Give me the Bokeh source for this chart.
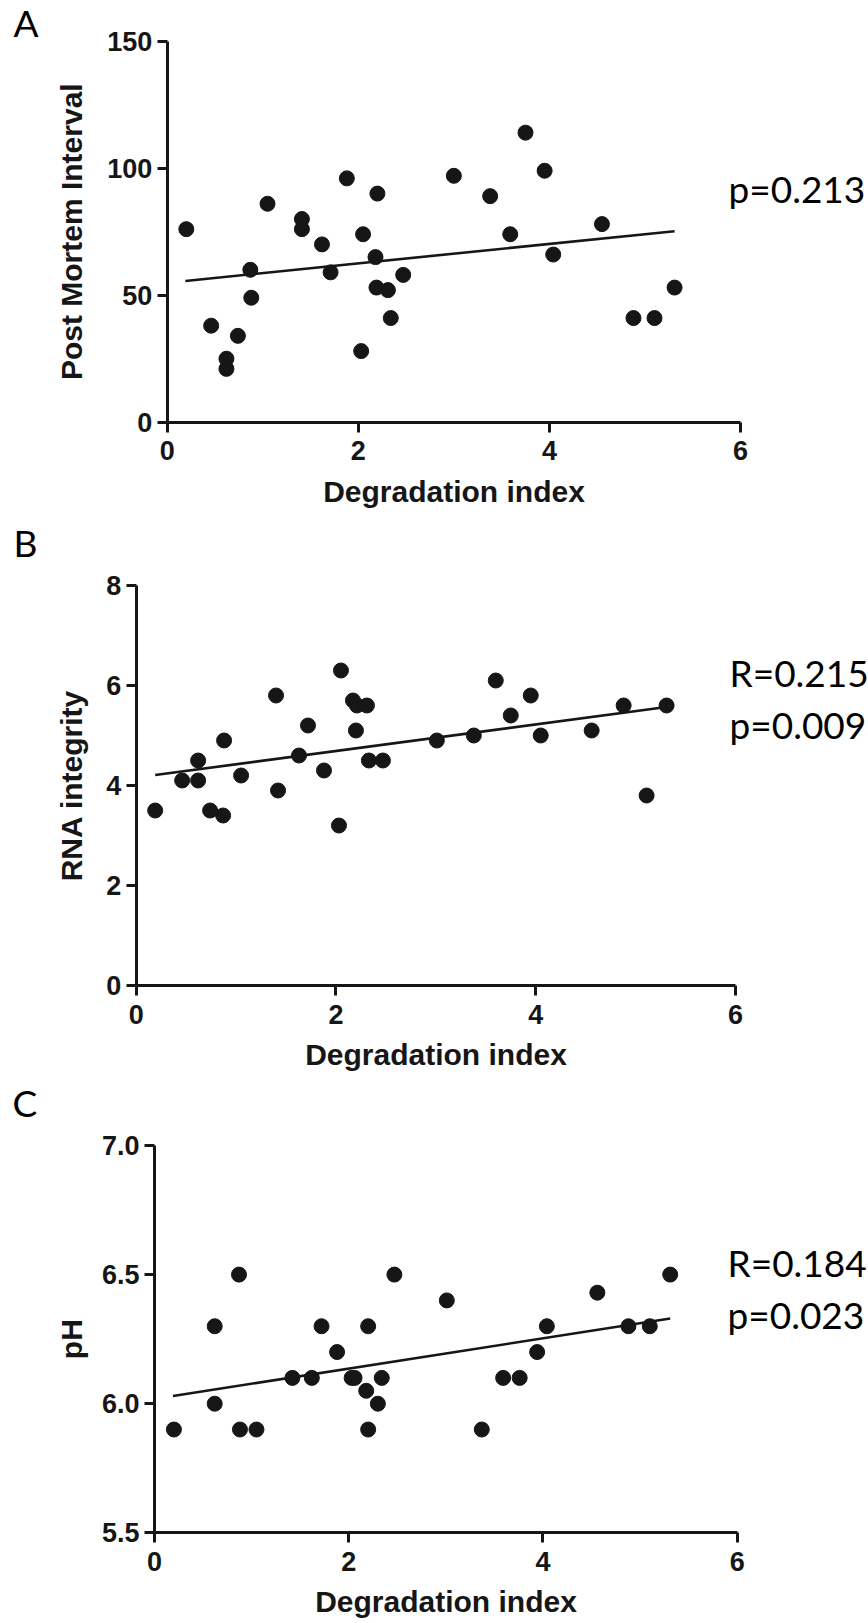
import math
from bokeh.plotting import figure
from bokeh.models import Label, FixedTicker, NumeralTickFormatter
from bokeh.layouts import column
from bokeh.embed import file_html
from bokeh.resources import INLINE

# ---------------- data ----------------
x_ticks = [0, 2, 4, 6]

# Panel A: Post Mortem Interval vs Degradation index
deg_a = [0.20, 0.46, 0.62, 0.62, 0.74, 0.87, 0.88, 1.05, 1.41, 1.41, 1.62, 1.71,
         1.88, 2.03, 2.05, 2.18, 2.20, 2.19, 2.31, 2.34, 2.47, 3.00, 3.38, 3.59,
         3.75, 3.95, 4.04, 4.55, 4.88, 5.10, 5.31]
pmi = [76, 38, 25, 21, 34, 60, 49, 86, 80, 76, 70, 59,
       96, 28, 74, 65, 90, 53, 52, 41, 58, 97, 89, 74,
       114, 99, 66, 78, 41, 41, 53]
y_ticks_a = [0, 50, 100, 150]
fit_x = [0.19, 5.31]
fit_a = [55.6, 75.2]
stats_a = ["p=0.213"]

# Panel B: RNA integrity vs Degradation index
deg_b = [0.19, 0.46, 0.62, 0.62, 0.74, 0.87, 0.88, 1.05, 1.40, 1.42, 1.63, 1.72,
         1.88, 2.05, 2.03, 2.17, 2.21, 2.20, 2.31, 2.33, 2.47, 3.01, 3.38, 3.60,
         3.75, 3.95, 4.05, 4.56, 4.88, 5.11, 5.31]
rin = [3.5, 4.1, 4.1, 4.5, 3.5, 3.4, 4.9, 4.2, 5.8, 3.9, 4.6, 5.2,
       4.3, 6.3, 3.2, 5.7, 5.6, 5.1, 5.6, 4.5, 4.5, 4.9, 5.0, 6.1,
       5.4, 5.8, 5.0, 5.1, 5.6, 3.8, 5.6]
y_ticks_b = [0, 2, 4, 6, 8]
fit_b = [4.21, 5.57]
stats_b = ["R=0.215", "p=0.009"]

# Panel C: pH vs Degradation index
deg_c = [0.20, 0.62, 0.62, 0.87, 0.88, 1.05, 1.42, 1.62, 1.72, 1.88, 2.03, 2.06,
         2.20, 2.18, 2.20, 2.30, 2.34, 2.47, 3.01, 3.37, 3.59, 3.76, 3.94, 4.04,
         4.56, 4.88, 5.10, 5.31]
ph = [5.9, 6.3, 6.0, 6.5, 5.9, 5.9, 6.1, 6.1, 6.3, 6.2, 6.1, 6.1,
      6.3, 6.05, 5.9, 6.0, 6.1, 6.5, 6.4, 5.9, 6.1, 6.1, 6.2, 6.3,
      6.43, 6.3, 6.3, 6.5]
y_ticks_c = [5.5, 6.0, 6.5, 7.0]
fit_c = [6.03, 6.33]
stats_c = ["R=0.184", "p=0.023"]

INK = "#161616"
AX_FONT = "Liberation Sans"
TXT_FONT = "Lato"
W = 868
X_DOMAIN = (0, 6)
YTITLE_X = 71          # anchor of the rotated y titles (px from left)
TEXT_LIFT = 17         # correction for label baseline placement


def make_panel(letter, xs, ys, fit_y, yr, yticks, ylabel, stats, height,
               ax_left, ax_right, ax_top, ax_bottom,
               letter_xy, stats_xy, y_fmt=None):
    # map pixel anchors of the axes onto data ranges spanning the whole canvas
    ppx = (ax_right - ax_left) / (X_DOMAIN[1] - X_DOMAIN[0])
    ppy = (ax_bottom - ax_top) / (yr[1] - yr[0])
    x_range = (X_DOMAIN[0] - ax_left / ppx, X_DOMAIN[1] + (W - ax_right) / ppx)
    y_range = (yr[0] - (height - ax_bottom) / ppy, yr[1] + ax_top / ppy)

    p = figure(width=W, height=height, x_range=x_range, y_range=y_range,
               output_backend="svg", toolbar_location=None,
               min_border_left=0, min_border_right=0,
               min_border_top=0, min_border_bottom=0)
    p.outline_line_color = None
    p.background_fill_color = "white"
    p.border_fill_color = "white"
    p.xgrid.grid_line_color = None
    p.ygrid.grid_line_color = None

    p.xaxis.ticker = FixedTicker(ticks=x_ticks)
    p.yaxis.ticker = FixedTicker(ticks=yticks)
    if y_fmt:
        p.yaxis.formatter = NumeralTickFormatter(format=y_fmt)
    p.xaxis.fixed_location = yr[0]
    p.xaxis.bounds = X_DOMAIN
    p.yaxis.fixed_location = X_DOMAIN[0]
    p.yaxis.bounds = yr
    for ax in (p.xaxis, p.yaxis):
        ax.axis_line_width = 3
        ax.axis_line_color = INK
        ax.major_tick_line_width = 3
        ax.major_tick_line_color = INK
        ax.major_tick_in = 0
        ax.major_tick_out = 10
        ax.minor_tick_line_color = None
        ax.major_label_text_font = AX_FONT
        ax.major_label_text_font_style = "bold"
        ax.major_label_text_font_size = "27px"
        ax.major_label_text_color = INK
        ax.axis_label_text_font = AX_FONT
        ax.axis_label_text_font_style = "bold"
        ax.axis_label_text_font_size = "30px"
        ax.axis_label_text_color = INK
    p.xaxis.major_label_standoff = 9
    p.yaxis.major_label_standoff = 5
    p.xaxis.axis_label = "Degradation index"
    p.xaxis.axis_label_standoff = 11

    # y title, rotated, centred on the y axis
    p.add_layout(Label(x=YTITLE_X, y=height - (ax_top + ax_bottom) / 2,
                       x_units="screen", y_units="screen", angle=math.pi / 2,
                       text=ylabel, text_font=AX_FONT, text_font_style="bold",
                       text_font_size="30px", text_color=INK,
                       text_align="center", text_baseline="alphabetic"))

    p.scatter(xs, ys, size=15, color=INK)
    p.line(fit_x, fit_y, line_width=2.6, color=INK)

    p.add_layout(Label(x=letter_xy[0], y=letter_xy[1] + TEXT_LIFT,
                       x_units="screen", y_units="screen",
                       text=letter, text_font=TXT_FONT, text_font_size="37px",
                       text_color="black", text_baseline="alphabetic"))
    for i, s in enumerate(stats):
        p.add_layout(Label(x=stats_xy[0], y=stats_xy[1] + TEXT_LIFT - 52 * i,
                           x_units="screen", y_units="screen", text=s,
                           text_font=TXT_FONT, text_font_size="37px",
                           text_color="black", text_baseline="alphabetic"))
    return p


pa = make_panel("A", deg_a, pmi, fit_a, (0, 150), y_ticks_a, "Post Mortem Interval",
                stats_a, height=517, ax_left=166.7, ax_right=740, ax_top=40.7,
                ax_bottom=421.7, letter_xy=(13, 478), stats_xy=(728, 312))
pb = make_panel("B", deg_b, rin, fit_b, (0, 8), y_ticks_b, "RNA integrity",
                stats_b, height=562, ax_left=135.7, ax_right=735, ax_top=68,
                ax_bottom=468, letter_xy=(13, 520), stats_xy=(729, 390))
pc = make_panel("C", deg_c, ph, fit_c, (5.5, 7.0), y_ticks_c, "pH",
                stats_c, height=544, ax_left=154, ax_right=736.7, ax_top=66,
                ax_bottom=453.3, letter_xy=(12, 504), stats_xy=(727, 344),
                y_fmt="0.0")

layout = column(pa, pb, pc, spacing=0)
open("out.html", "w").write(file_html(layout, INLINE))
